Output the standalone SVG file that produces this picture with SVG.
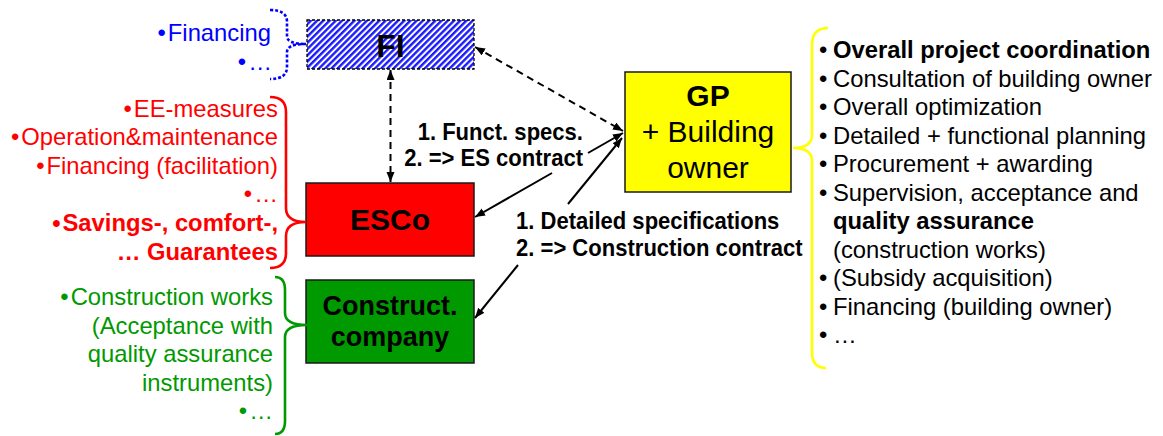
<svg xmlns="http://www.w3.org/2000/svg" width="1163" height="436" viewBox="0 0 1163 436">
<defs>
  <pattern id="hatch" patternUnits="userSpaceOnUse" width="4.4" height="4.4" patternTransform="rotate(45)">
    <rect width="4.4" height="4.4" fill="#ffffff"/>
    <rect x="0" y="0" width="2.4" height="4.4" fill="#1a1aff"/>
  </pattern>
  <marker id="ah" markerUnits="userSpaceOnUse" markerWidth="12" markerHeight="10" refX="10" refY="4" orient="auto-start-reverse">
    <path d="M0,0 L10,4 L0,8 Z" fill="#000"/>
  </marker>
</defs>
<style>
  text { font-family: "Liberation Sans", Arial, sans-serif; }
  .box { stroke: #1a1a1a; stroke-width: 1.5; }
  .nodeB { font-weight: bold; fill: #000; text-anchor: middle; }
  .lst { font-size: 23.8px; }
  .blk { fill: #000; }
  .red { fill: #ff0000; }
  .grn { fill: #009900; }
  .blu { fill: #0000ff; }
  .b { font-weight: bold; }
  .end { text-anchor: end; }
  .lbl { font-size: 24.5px; font-weight: bold; fill: #000; }
  .solid { stroke: #000; stroke-width: 2; fill: none; }
  .dash { stroke: #000; stroke-width: 2; fill: none; stroke-dasharray: 7 5; }
  .brace { fill: none; stroke-width: 2.6; }
</style>

<g id="fi">
  <rect x="307" y="20" width="167" height="49" fill="url(#hatch)" stroke="#000" stroke-width="1.3" stroke-dasharray="3 2"/>
  <text x="390.5" y="57" class="nodeB" font-size="32">FI</text>
</g>

<g id="esco">
  <rect class="box" x="306" y="183" width="168" height="73" fill="#ff0000"/>
  <text x="390" y="230" class="nodeB" font-size="30">ESCo</text>
</g>

<g id="construct">
  <rect class="box" x="306" y="280" width="168" height="83" fill="#009900"/>
  <text x="390" y="315" class="nodeB" font-size="27">Construct.</text>
  <text x="390" y="346" class="nodeB" font-size="27">company</text>
</g>

<g id="gp">
  <rect class="box" x="625" y="72" width="166" height="120" fill="#ffff00"/>
  <text x="708" y="106" class="nodeB" font-size="30">GP</text>
  <text x="708" y="142" font-size="30" fill="#000" text-anchor="middle">+ Building</text>
  <text x="708" y="178" font-size="30" fill="#000" text-anchor="middle">owner</text>
</g>

<g id="connectors">
  <path class="dash" d="M475,47 L623,131" marker-start="url(#ah)" marker-end="url(#ah)"/>
  <path class="dash" d="M390.5,70 L390.5,182" marker-start="url(#ah)" marker-end="url(#ah)"/>
  <path class="solid" d="M588,153 L623,133" marker-end="url(#ah)"/>
  <path class="solid" d="M552,173 L475,217" marker-end="url(#ah)"/>
  <path class="solid" d="M568,204 L622,138" marker-end="url(#ah)"/>
  <path class="solid" d="M518,265 L475,318" marker-end="url(#ah)"/>
  <text transform="translate(583,140) scale(0.9,1)" class="lbl end">1. Funct. specs.</text>
  <text transform="translate(583,165.5) scale(0.9,1)" class="lbl end">2. =&gt; ES contract</text>
  <text transform="translate(516,228.5) scale(0.9,1)" class="lbl">1. Detailed specifications</text>
  <text transform="translate(516,255.5) scale(0.9,1)" class="lbl">2. =&gt; Construction contract</text>
</g>

<g id="fi-notes">
  <path class="brace" stroke="#0000ff" stroke-width="3" stroke-dasharray="3 2" d="M270,10 Q287,10 287,22 L287,36 Q287,44 306,44 Q287,44 287,52 L287,67 Q287,79 270,79"/>
  <text class="lst blu end" x="271" y="41"><tspan>•</tspan><tspan dx="2">Financing</tspan></text>
  <text class="lst blu end" x="272" y="70"><tspan>•</tspan><tspan dx="2">…</tspan></text>
</g>

<g id="esco-notes">
  <path class="brace" stroke="#ff0000" d="M270,97 Q286,97 286,112 L286,208 Q286,222 306,222 Q286,222 286,236 L286,253 Q286,268 270,268"/>
  <text class="lst red end" x="278" y="117"><tspan>•</tspan><tspan dx="2">EE-measures</tspan></text>
  <text class="lst red end" x="278" y="145"><tspan>•</tspan><tspan dx="2">Operation&amp;maintenance</tspan></text>
  <text class="lst red end" x="278" y="173.5"><tspan>•</tspan><tspan dx="2">Financing (facilitation)</tspan></text>
  <text class="lst red end" x="278" y="202"><tspan>•</tspan><tspan dx="2">…</tspan></text>
  <text class="lst red end b" x="278" y="231"><tspan>•</tspan><tspan dx="2">Savings-, comfort-,</tspan></text>
  <text class="lst red end b" x="278" y="259.5">… Guarantees</text>
</g>

<g id="construct-notes">
  <path class="brace" stroke="#009900" d="M275,277 Q285,277 285,290 L285,313 Q285,325 307,325 Q285,325 285,337 L285,421 Q285,434 275,434"/>
  <text class="lst grn end" x="273" y="305"><tspan>•</tspan><tspan dx="2">Construction works</tspan></text>
  <text class="lst grn end" x="273" y="333.5">(Acceptance with</text>
  <text class="lst grn end" x="273" y="362">quality assurance</text>
  <text class="lst grn end" x="273" y="390.5">instruments)</text>
  <text class="lst grn end" x="273" y="419"><tspan>•</tspan><tspan dx="2">…</tspan></text>
</g>

<g id="gp-notes">
  <path class="brace" stroke="#ffff00" stroke-width="3" d="M828,28 Q812,28 812,45 L812,135 Q812,148 793,148 Q812,148 812,161 L812,352 Q812,368 826,368"/>
  <g class="lst blk">
    <text x="819" y="58">•</text><text x="833" y="58" class="b">Overall project coordination</text>
    <text x="819" y="86.5">•</text><text x="833" y="86.5">Consultation of building owner</text>
    <text x="819" y="115">•</text><text x="833" y="115">Overall optimization</text>
    <text x="819" y="143.5">•</text><text x="833" y="143.5">Detailed + functional planning</text>
    <text x="819" y="172">•</text><text x="833" y="172">Procurement + awarding</text>
    <text x="819" y="200.5">•</text><text x="833" y="200.5">Supervision, acceptance and</text>
    <text x="833" y="229" class="b">quality assurance</text>
    <text x="833" y="257.5">(construction works)</text>
    <text x="819" y="286">•</text><text x="833" y="286">(Subsidy acquisition)</text>
    <text x="819" y="314.5">•</text><text x="833" y="314.5">Financing (building owner)</text>
    <text x="819" y="343">•</text><text x="833" y="343">…</text>
  </g>
</g>
</svg>
